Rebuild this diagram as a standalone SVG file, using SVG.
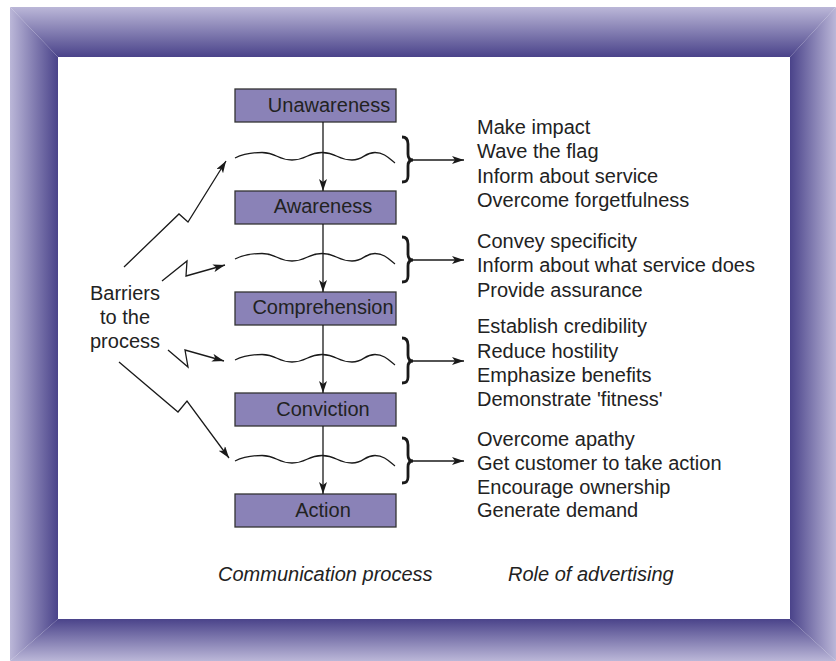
<svg xmlns="http://www.w3.org/2000/svg" width="836" height="661" viewBox="0 0 836 661">
<style>
.box{fill:#8a82b7;stroke:#333;stroke-width:1.3}
.lbl{font-family:"Liberation Sans",Arial,sans-serif;font-size:20px;fill:#222}
.mid{text-anchor:middle}
.it{font-style:italic}
.ln{fill:none;stroke:#1a1a1a;stroke-width:1.3}
.wave{fill:none;stroke:#1a1a1a;stroke-width:1.3}
.brace{fill:none;stroke:#1a1a1a;stroke-width:2.8}
</style>
<defs>
<linearGradient id="gT" x1="0" y1="7" x2="0" y2="57" gradientUnits="userSpaceOnUse"><stop offset="0" stop-color="#bbb7d8"/><stop offset="1" stop-color="#4a438a"/></linearGradient>
<linearGradient id="gB" x1="0" y1="661" x2="0" y2="619" gradientUnits="userSpaceOnUse"><stop offset="0" stop-color="#bbb7d8"/><stop offset="1" stop-color="#4a438a"/></linearGradient>
<linearGradient id="gL" x1="10" y1="0" x2="58" y2="0" gradientUnits="userSpaceOnUse"><stop offset="0" stop-color="#bbb7d8"/><stop offset="1" stop-color="#4a438a"/></linearGradient>
<linearGradient id="gR" x1="836" y1="0" x2="790" y2="0" gradientUnits="userSpaceOnUse"><stop offset="0" stop-color="#bbb7d8"/><stop offset="1" stop-color="#4a438a"/></linearGradient>
<marker id="ah" viewBox="0 0 12 8" refX="12" refY="4" markerWidth="12" markerHeight="8" markerUnits="userSpaceOnUse" orient="auto">
<path d="M0,0 L12,4 L0,8 L3,4 z" fill="#1a1a1a"/>
</marker>
<path id="wv" d="M235,1.5 C244,-3 252,-4 262,-4 C277,-4 277,3.5 292,3.5 C307,3.5 307,-4 322,-4 C337,-4 337,3.5 352,3.5 C364,3.5 364,-4 375,-4 C385,-4 390,3 395,6.5"/>
<path id="br" d="M402,-23 C407,-23 408,-20 408,-16 L408,-6 C408,-2 410,0 413,0 C410,0 408,2 408,6 L408,16 C408,20 407,22 402,22"/>
</defs>
<rect width="836" height="661" fill="#fff"/>
<g id="frame">
<polygon points="10,7 836,7 790,57 58,57" fill="url(#gT)"/>
<polygon points="10,661 58,619 790,619 836,661" fill="url(#gB)"/>
<polygon points="10,7 58,57 58,619 10,661" fill="url(#gL)"/>
<polygon points="836,7 836,661 790,619 790,57" fill="url(#gR)"/>
</g>
<g id="n-unawareness"><rect class="box" x="235" y="89" width="161" height="33"/><text class="lbl mid" x="329" y="112">Unawareness</text></g>
<g id="n-awareness"><rect class="box" x="235" y="191" width="161" height="33"/><text class="lbl mid" x="323" y="213">Awareness</text></g>
<g id="n-comprehension"><rect class="box" x="235" y="292" width="161" height="33"/><text class="lbl mid" x="323" y="314">Comprehension</text></g>
<g id="n-conviction"><rect class="box" x="235" y="393" width="161" height="33"/><text class="lbl mid" x="323" y="416">Conviction</text></g>
<g id="n-action"><rect class="box" x="235" y="494" width="161" height="33"/><text class="lbl mid" x="323" y="517">Action</text></g>
<g id="barriers-label"><text class="lbl mid" x="125" y="300">Barriers</text><text class="lbl mid" x="125" y="324">to the</text><text class="lbl mid" x="125" y="348">process</text></g>
<g id="waves">
<use href="#wv" class="wave" transform="translate(0,156.5)"/>
<use href="#wv" class="wave" transform="translate(0,257.5)"/>
<use href="#wv" class="wave" transform="translate(0,358.5)"/>
<use href="#wv" class="wave" transform="translate(0,459.5)"/>
</g>
<g id="braces">
<use href="#br" class="brace" transform="translate(0,160)"/>
<use href="#br" class="brace" transform="translate(0,260)"/>
<use href="#br" class="brace" transform="translate(0,361)"/>
<use href="#br" class="brace" transform="translate(0,461)"/>
</g>
<g id="connectors">
<line class="ln" x1="323" y1="122" x2="323" y2="191" marker-end="url(#ah)"/>
<line class="ln" x1="323" y1="224" x2="323" y2="292" marker-end="url(#ah)"/>
<line class="ln" x1="323" y1="325" x2="323" y2="393" marker-end="url(#ah)"/>
<line class="ln" x1="323" y1="426" x2="323" y2="494" marker-end="url(#ah)"/>
<line class="ln" x1="413" y1="160" x2="464" y2="160" marker-end="url(#ah)"/>
<line class="ln" x1="413" y1="260" x2="464" y2="260" marker-end="url(#ah)"/>
<line class="ln" x1="413" y1="361" x2="464" y2="361" marker-end="url(#ah)"/>
<line class="ln" x1="413" y1="461" x2="464" y2="461" marker-end="url(#ah)"/>
<polyline class="ln" points="124,267 179,214 188,222 226,161" marker-end="url(#ah)"/>
<polyline class="ln" points="162,281 187,261 186,276 225,265" marker-end="url(#ah)"/>
<polyline class="ln" points="168,350 188,367 185,350 224,361" marker-end="url(#ah)"/>
<polyline class="ln" points="119,362 178,412 187,401 229,458" marker-end="url(#ah)"/>
</g>
<g id="roles-1"><text class="lbl" x="477" y="134">Make impact</text><text class="lbl" x="477" y="158">Wave the flag</text><text class="lbl" x="477" y="183">Inform about service</text><text class="lbl" x="477" y="207">Overcome forgetfulness</text></g>
<g id="roles-2"><text class="lbl" x="477" y="248">Convey specificity</text><text class="lbl" x="477" y="272">Inform about what service does</text><text class="lbl" x="477" y="297">Provide assurance</text></g>
<g id="roles-3"><text class="lbl" x="477" y="333">Establish credibility</text><text class="lbl" x="477" y="358">Reduce hostility</text><text class="lbl" x="477" y="382">Emphasize benefits</text><text class="lbl" x="477" y="406">Demonstrate 'fitness'</text></g>
<g id="roles-4"><text class="lbl" x="477" y="446">Overcome apathy</text><text class="lbl" x="477" y="470">Get customer to take action</text><text class="lbl" x="477" y="494">Encourage ownership</text><text class="lbl" x="477" y="517">Generate demand</text></g>
<g id="captions"><text class="lbl it" x="218" y="581">Communication process</text><text class="lbl it" x="508" y="581">Role of advertising</text></g>
</svg>
